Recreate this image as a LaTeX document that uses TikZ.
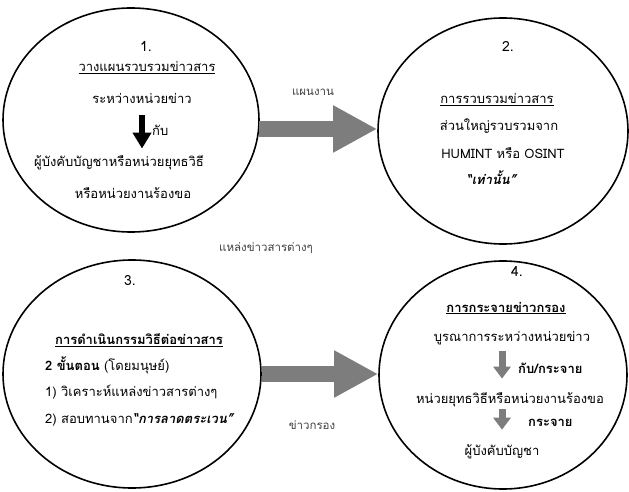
\documentclass[tikz,border=0pt]{standalone}
\usepackage{fontspec}
\setmainfont{Loma}[Script=Thai]
\usetikzlibrary{arrows.meta,shapes.geometric}
\definecolor{arrowgray}{RGB}{125,125,125}

\begin{document}
\begin{tikzpicture}[x=1pt,y=-1pt,line cap=round,line join=round,
        phase/.style={draw=black,line width=1.6pt,ellipse,inner sep=0pt},
        txt/.style={font=\fontsize{13}{15}\selectfont,inner sep=1pt},
        num/.style={font=\fontsize{14}{16}\selectfont,inner sep=1pt},
        flowlabel/.style={font=\fontsize{11.5}{13}\selectfont,text=black!75,inner sep=1pt},
        bigarrow/.style={draw=arrowgray,line width=16pt,line cap=butt,-{Triangle[length=44pt,width=44pt]}},
        blackarrow/.style={draw=black,line width=6pt,line cap=butt,-{Triangle[length=16pt,width=18pt]}},
        grayarrow/.style={draw=arrowgray,line width=7pt,line cap=butt,-{Triangle[length=12pt,width=17pt]}}]
        \useasboundingbox (0,0) rectangle (629,492);
        % the four phases
        \node[phase,minimum width=256pt,minimum height=224pt] (plan) at (131,120) {};
        \node[phase,minimum width=250pt,minimum height=226pt] (collect) at (503,131) {};
        \node[phase,minimum width=258pt,minimum height=228pt] (process) at (132,374) {};
        \node[phase,minimum width=248pt,minimum height=228pt] (spread) at (503,375) {};
        \draw[bigarrow] (plan.-4) -- (collect.west |- plan.-4);
        \draw[bigarrow] (process.east) -- (spread.west |- process.east);
        \node[flowlabel] (planlabel) at (313,92) {แผนงาน};
        \node[flowlabel] (sourcelabel) at (266,248) {แหล่งข่าวสารต่างๆ};
        \node[flowlabel] (intellabel) at (312,425) {ข่าวกรอง};
        % 1
        \node[num] (n1) at (146,46) {1.};
        \node[txt] (t1) at (147,68) {\underline{วางแผนรวบรวมข่าวสาร}};
        \node[txt] (t1a) at (142,98) {ระหว่างหน่วยข่าว};
        \node[txt] (t1b) at (119,163) {ผู้บังคับบัญชาหรือหน่วยยุทธวิธี};
        \node[txt] (t1c) at (133,193) {หรือหน่วยงานร้องขอ};
        \draw[blackarrow,shorten <=11pt,shorten >=6pt] (t1a.south) -- (t1a.south |- t1b.north);
        \node[txt,anchor=west] (w1) at (151,130) {กับ};
        % 2
        \node[num] (n2) at (508,46) {2.};
        \node[txt] (t2) at (497,100) {\underline{การรวบรวมข่าวสาร}};
        \node[txt] (t2a) at (499,126) {ส่วนใหญ่รวบรวมจาก};
        \node[txt] (t2b) at (503,153) {HUMINT หรือ OSINT};
        \node[txt] (t2c) at (492,178) {\textbf{\textit{“เท่านั้น”}}};
        % 3
        \node[num] (n3) at (130,281) {3.};
        \node[txt] (t3) at (139,340) {\underline{\textbf{การดำเนินกรรมวิธีต่อข่าวสาร}}};
        \node[txt,anchor=west] (t3a) at (44,365) {\textbf{2 ขั้นตอน} (โดยมนุษย์)};
        \node[txt,anchor=west] (t3b) at (44,392) {1) วิเคราะห์แหล่งข่าวสารต่างๆ};
        \node[txt,anchor=west] (t3c) at (44,420) {2) สอบทานจาก\textbf{\textit{“การลาดตระเวน”}}};
        % 4
        \node[num] (n4) at (517,271) {4.};
        \node[txt] (t4) at (506,308) {\underline{\textbf{การกระจายข่าวกรอง}}};
        \node[txt] (t4a) at (512,338) {บูรณาการระหว่างหน่วยข่าว};
        \node[txt] (t4b) at (510,400) {หน่วยยุทธวิธีหรือหน่วยงานร้องขอ};
        \node[txt] (t4c) at (502,452) {ผู้บังคับบัญชา};
        \draw[grayarrow,shorten <=5pt,shorten >=13pt] (t4a.south -| t4c) -- (t4b.north -| t4c);
        \draw[grayarrow,shorten <=1pt,shorten >=14pt] (t4b.south -| t4c) -- (t4c.north);
        \node[txt,anchor=west] (w4a) at (517,368) {\textbf{กับ/กระจาย}};
        \node[txt,anchor=west] (w4b) at (527,423) {\textbf{กระจาย}};
\end{tikzpicture}
\end{document}
